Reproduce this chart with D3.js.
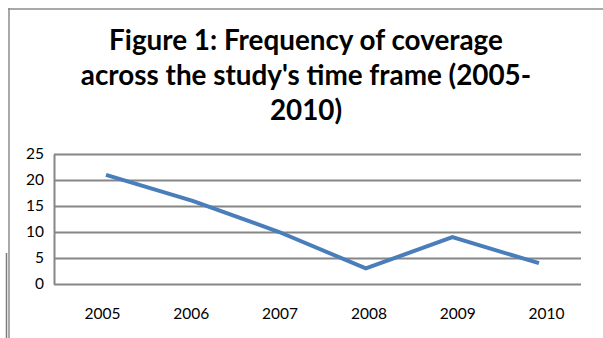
<!DOCTYPE html>
<html>
<head>
  <title>Figure 1: Frequency of coverage</title>
  <style>
    body {
      margin: 0;
      padding: 0;
      background: #ffffff;
      font-family: Lato, "Open Sans", sans-serif;
    }
    .grid line { stroke: #868686; stroke-width: 2; }
    .grid path { stroke: #868686; stroke-width: 2; }
    .grid text, .x-axis text { font-family: Lato, sans-serif; font-size: 15.5px; fill: #000; }
  </style>
</head>
<body>
  <div id="chart"></div>
  <script src="https://d3js.org/d3.v7.min.js"></script>
  <script>
    // chart data
    const years = ["2005", "2006", "2007", "2008", "2009", "2010"];
    const coverage = [21, 16, 10, 3, 9, 4];
    const yTicks = [0, 5, 10, 15, 20, 25];
    const titleLines = [
      "Figure 1: Frequency of coverage",
      "across the study's time frame (2005-",
      "2010)"
    ];

    const width = 603, height = 338;
    const plot = { left: 54, right: 581, top: 154, bottom: 284 };

    const svg = d3.select("#chart")
      .append("svg")
      .attr("width", width)
      .attr("height", height);

    // frame edges (chart box cropped on the right / bottom)
    svg.append("line")
      .attr("x1", 8).attr("x2", width)
      .attr("y1", 9).attr("y2", 9)
      .attr("stroke", "#8c8c8c").attr("stroke-width", 1.5);
    svg.append("line")
      .attr("x1", 9).attr("x2", 9)
      .attr("y1", 8).attr("y2", height)
      .attr("stroke", "#8c8c8c").attr("stroke-width", 1.5);
    svg.append("line")
      .attr("x1", 6.5).attr("x2", 6.5)
      .attr("y1", 253).attr("y2", height)
      .attr("stroke", "#7a7a7a").attr("stroke-width", 1.5);

    // title
    const title = svg.append("g").attr("class", "title");
    const titleY = [49.5, 85, 120];
    title.selectAll("text")
      .data(titleLines)
      .enter()
      .append("text")
      .attr("x", 306)
      .attr("y", (d, i) => titleY[i])
      .attr("text-anchor", "middle")
      .attr("font-weight", "bold")
      .attr("font-size", 24)
      .attr("fill", "#000")
      .text(d => d);

    // fit title size so first line is about 394px wide
    const firstLen = title.select("text").node().getComputedTextLength();
    const fitSize = 24 * 394 / firstLen;
    title.selectAll("text").attr("font-size", fitSize);

    // scales
    const x = d3.scalePoint().domain(years).range([106, 539]);
    const xLabel = d3.scalePoint().domain(years).range([102, 546]);
    const y = d3.scaleLinear().domain([0, 25]).range([plot.bottom, plot.top]);

    // y axis with gridlines
    svg.append("g")
      .attr("class", "grid")
      .attr("transform", `translate(${plot.left},0)`)
      .call(d3.axisLeft(y)
        .tickValues(yTicks)
        .tickSize(-(plot.right - plot.left))
        .tickSizeOuter(0)
        .tickPadding(10));

    // x axis labels
    const xAxis = svg.append("g")
      .attr("class", "x-axis")
      .attr("transform", `translate(0,${plot.bottom})`)
      .call(d3.axisBottom(xLabel).tickSize(0).tickPadding(24));
    xAxis.select(".domain").remove();

    // line
    const line = d3.line()
      .x((d, i) => x(years[i]))
      .y(d => y(d));

    svg.append("path")
      .datum(coverage)
      .attr("d", line)
      .attr("fill", "none")
      .attr("stroke", "#4a7ebb")
      .attr("stroke-width", 4);
  </script>
</body>
</html>
